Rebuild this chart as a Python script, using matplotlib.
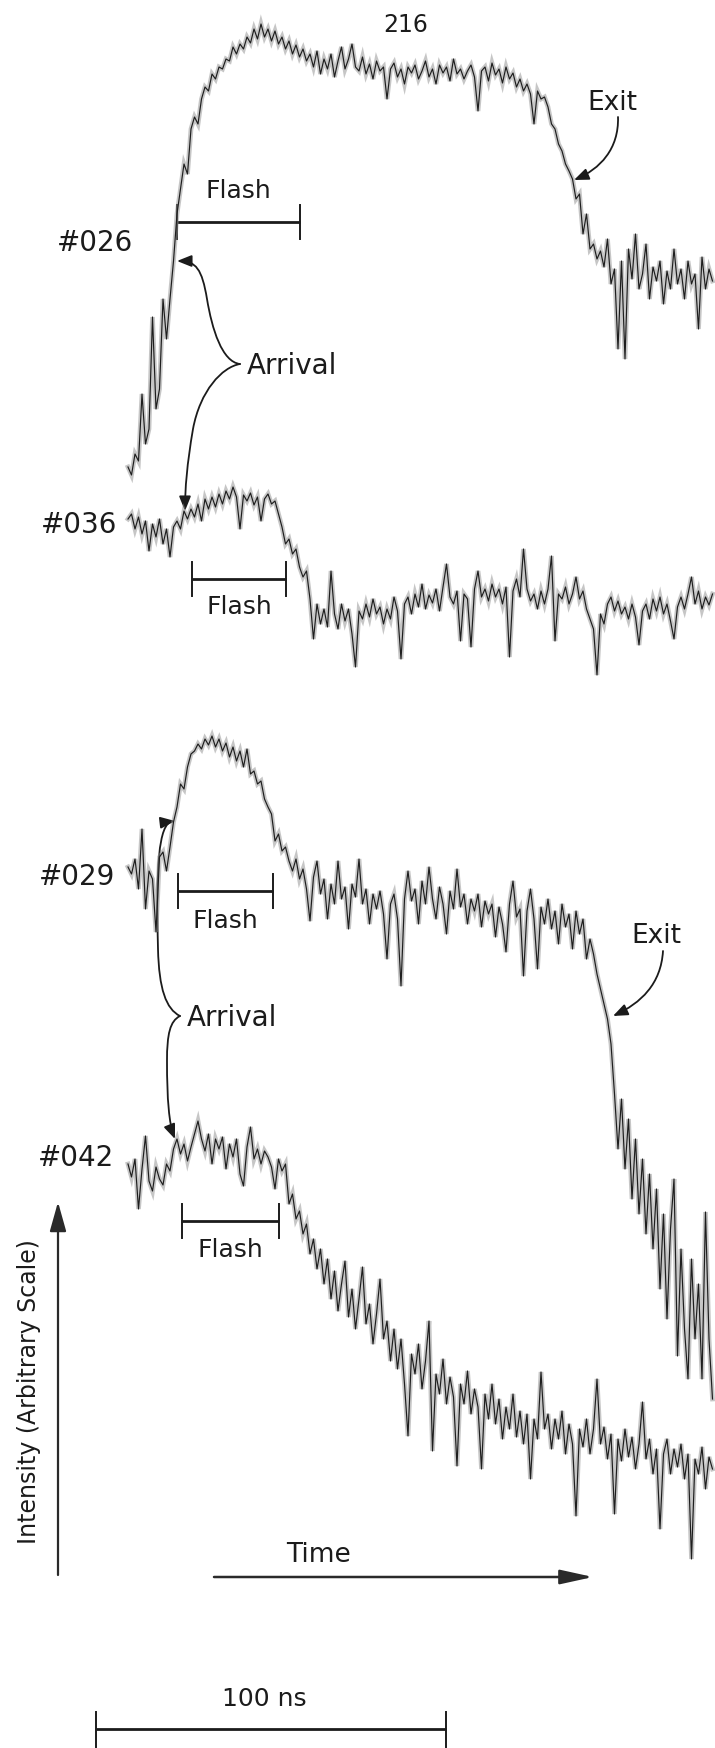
import numpy as np
import matplotlib
matplotlib.use("Agg")
import matplotlib.pyplot as plt
from matplotlib.path import Path
from matplotlib.patches import FancyArrowPatch
from matplotlib.transforms import blended_transform_factory

# ---------------------------------------------------------------------------
# Digitised oscilloscope traces, one sample per nanosecond, intensity in
# arbitrary units (larger = brighter).
# ---------------------------------------------------------------------------
SAMPLE_NS = 1.0

shot_ids = ["#026", "#036", "#029", "#042"]

intensity_026 = [
    12, 4, 25, 18, 85, 35, 50, 162, 70, 90,
    180, 140, 180, 218, 265, 290, 315, 305, 350, 362,
    355, 380, 392, 388, 405, 400, 412, 410, 420, 418,
    432, 425, 435, 430, 442, 436, 450, 440, 455, 442,
    450, 438, 448, 435, 442, 430, 438, 425, 434, 422,
    430, 418, 425, 412, 428, 405, 420, 410, 425, 402,
    418, 432, 410, 420, 435, 412, 408, 422, 405, 415,
    400, 418, 408, 412, 380, 410, 416, 402, 410, 395,
    412, 406, 414, 400, 408, 418, 402, 410, 395, 414,
    406, 412, 398, 420, 405, 410, 400, 408, 414, 402,
    368, 408, 412, 398, 416, 404, 410, 396, 412, 400,
    406, 392, 400, 388, 395, 385, 355, 388, 380, 382,
    372, 355, 350, 335, 328, 315, 308, 300, 280, 285,
    245, 265, 230, 235, 220, 228, 212, 240, 195, 210,
    130, 218, 120, 230, 200, 245, 190, 205, 235, 180,
    212, 198, 218, 175, 208, 190, 230, 195, 210, 180,
    218, 195, 205, 150, 222, 190, 210, 198,
]

intensity_036 = [
    160, 165, 150, 162, 145, 158, 128, 155, 142, 160,
    135, 150, 122, 152, 158, 150, 168, 160, 170, 162,
    175, 158, 180, 170, 182, 172, 185, 175, 188, 180,
    192, 182, 150, 184, 178, 186, 174, 182, 158, 180,
    185, 175, 178, 165, 152, 135, 140, 125, 130, 112,
    102, 108, 80, 40, 75, 55, 70, 52, 108, 65,
    50, 75, 58, 70, 45, 12, 68, 60, 75, 62,
    80, 65, 72, 55, 70, 60, 82, 68, 20, 75,
    82, 65, 85, 72, 95, 70, 84, 76, 90, 68,
    92, 115, 82, 75, 88, 38, 85, 80, 32, 90,
    108, 82, 90, 78, 95, 82, 90, 75, 92, 22,
    88, 100, 82, 130, 90, 78, 85, 70, 88, 75,
    90, 123, 38, 85, 80, 92, 75, 85, 102, 80,
    88, 70, 60, 50, 4, 65, 55, 75, 82, 68,
    78, 65, 72, 60, 75, 62, 34, 68, 75, 60,
    80, 68, 82, 65, 75, 58, 40, 72, 82, 70,
    85, 102, 75, 88, 70, 82, 74, 85,
]

intensity_029 = [
    532, 525, 540, 510, 570, 490, 528, 520, 467, 542,
    547, 528, 552, 577, 592, 615, 610, 632, 645, 648,
    655, 650, 660, 654, 663, 652, 660, 648, 656, 642,
    652, 638, 648, 632, 650, 625, 628, 615, 618, 600,
    592, 585, 558, 565, 548, 552, 538, 528, 540, 520,
    530, 510, 478, 522, 538, 505, 520, 480, 515, 495,
    538, 500, 512, 470, 515, 502, 540, 495, 510, 475,
    505, 490, 508, 485, 440, 495, 505, 480, 413, 500,
    528, 498, 510, 475, 518, 495, 532, 500, 480, 512,
    495, 465, 508, 490, 530, 492, 505, 475, 500, 488,
    505, 472, 498, 485, 495, 462, 492, 475, 447, 495,
    518, 482, 490, 423, 488, 510, 480, 430, 492, 475,
    500, 470, 488, 455, 495, 472, 485, 450, 488, 465,
    480, 440, 460, 445, 425, 410, 395, 380, 355, 305,
    250, 300, 230, 280, 200, 260, 185, 240, 165, 225,
    150, 210, 110, 185, 80, 170, 220, 43, 150, 70,
    20, 140, 60, 115, 20, 187, 60, 0,
]

intensity_042 = [
    415, 402, 420, 370, 410, 443, 398, 388, 412, 400,
    394, 415, 408, 430, 440, 425, 435, 418, 432, 445,
    458, 440, 428, 445, 415, 440, 430, 442, 410, 435,
    422, 440, 405, 393, 432, 452, 420, 430, 415, 428,
    422, 412, 390, 420, 408, 415, 375, 385, 360, 368,
    345, 355, 325, 340, 310, 330, 295, 320, 280, 308,
    268, 295, 318, 262, 290, 250, 280, 312, 255, 275,
    235, 265, 300, 240, 258, 218, 250, 210, 240, 195,
    143, 225, 205, 235, 190, 218, 258, 128, 205, 185,
    220, 175, 202, 182, 113, 195, 175, 208, 165, 190,
    172, 110, 185, 160, 195, 155, 180, 140, 172, 150,
    185, 142, 168, 135, 165, 100, 160, 140, 207, 150,
    165, 130, 160, 140, 168, 125, 155, 135, 63, 150,
    132, 160, 125, 150, 200, 135, 152, 120, 145, 65,
    140, 118, 150, 122, 142, 110, 135, 177, 120, 140,
    105, 130, 50, 125, 140, 105, 130, 112, 135, 100,
    125, 20, 120, 105, 132, 90, 122, 110,
]

# flash windows (ns from start of each record)
flash_026 = [14.0, 49.1]
flash_036 = [18.3, 45.1]
flash_029 = [14.3, 41.4]
flash_042 = [15.4, 43.1]

SCALE_BAR_NS = 100

# ---------------------------------------------------------------------------
# Page layout (pixels, origin top-left)
# ---------------------------------------------------------------------------
W, H = 715, 1749
PX_PER_NS = 3.5
TRACE_LEFT = 128

INK = "#1b1b1b"
FONT = "DejaVu Sans"

plt.rcParams["font.family"] = [FONT]

fig = plt.figure(figsize=(W / 100, H / 100), dpi=100)
fig.patch.set_facecolor("white")

page = fig.add_axes([0, 0, 1, 1])
page.set_xlim(0, W)
page.set_ylim(H, 0)
page.axis("off")


def trace_axes(base_px, span_px):
    width = W - TRACE_LEFT
    ax = fig.add_axes([TRACE_LEFT / W, 1 - base_px / H, width / W, span_px / H])
    ax.set_xlim(0, width / PX_PER_NS)
    ax.set_ylim(0, span_px)
    ax.axis("off")
    ax.patch.set_alpha(0)
    return ax


def draw_trace(ax, values):
    t = np.arange(len(values)) * SAMPLE_NS
    v = np.asarray(values, dtype=float)
    # grey photographic smear under the sharp beam line
    ax.plot(t, v, color="#8f8f8f", lw=3.4, alpha=0.5, clip_on=False,
            solid_joinstyle="miter")
    ax.plot(t, v, color="#1e1e1e", lw=0.85, clip_on=False)


traces = {
    "#026": (intensity_026, flash_026, 480, 470, 223),
    "#036": (intensity_036, flash_036, 680, 200, 580),
    "#029": (intensity_029, flash_029, 1400, 680, 892),
    "#042": (intensity_042, flash_042, 1580, 470, 1222),
}
label_pos = {"#026": (95, 243), "#036": (79, 525),
             "#029": (77, 877), "#042": (76, 1158)}
flash_text_y = {"#026": 191, "#036": 607, "#029": 921, "#042": 1250}

axes = {}
for sid in shot_ids:
    values, flash, base, span, bar_y = traces[sid]
    ax = trace_axes(base, span)
    axes[sid] = ax
    draw_trace(ax, values)

    # flash interval marker: time along the trace axis, height on the page
    tr = blended_transform_factory(ax.transData, page.transData)
    t0, t1 = flash
    page.plot([t0, t1], [bar_y, bar_y], transform=tr, color=INK, lw=2.0,
              solid_capstyle="butt")
    for tt in (t0, t1):
        page.plot([tt, tt], [bar_y - 17, bar_y + 17], transform=tr,
                  color=INK, lw=1.4)
    mid = page.transData.inverted().transform(
        tr.transform(((t0 + t1) / 2, bar_y)))[0]
    page.text(mid, flash_text_y[sid], "Flash", ha="center", va="center",
              fontsize=18, color=INK)

    lx, ly = label_pos[sid]
    page.text(lx, ly, sid, ha="center", va="center", fontsize=20, color=INK)


def curve(points, head=True):
    verts = [points[0]]
    codes = [Path.MOVETO]
    for seg in points[1:]:
        verts.extend(seg)
        codes.extend([Path.CURVE4] * 3)
    style = "-|>,head_length=0.55,head_width=0.22" if head else "-"
    arr = FancyArrowPatch(path=Path(verts, codes), arrowstyle=style,
                          mutation_scale=16, lw=1.3, color=INK,
                          transform=page.transData)
    page.add_patch(arr)


# "Arrival" brace for #026 / #036
curve([(240, 365), [(222, 363), (212, 330), (207, 300)],
       [(202, 270), (196, 262), (177, 262)]])
curve([(240, 365), [(222, 368), (200, 392), (193, 430)],
       [(187, 465), (185, 490), (185, 512)]])
page.text(292, 366, "Arrival", ha="center", va="center", fontsize=20, color=INK)

# "Arrival" brace for #029 / #042
curve([(180, 1017), [(166, 1010), (159, 990), (158, 950)],
       [(156, 870), (158, 824), (175, 822)]])
curve([(180, 1017), [(170, 1022), (167, 1035), (167, 1062)],
       [(167, 1100), (169, 1125), (175, 1140)]])
page.text(232, 1018, "Arrival", ha="center", va="center", fontsize=20, color=INK)

# "Exit" markers
curve([(618, 118), [(619, 150), (600, 170), (574, 181)]])
page.text(612, 103, "Exit", ha="center", va="center", fontsize=19, color=INK)
curve([(663, 952), [(661, 985), (641, 1004), (613, 1017)]])
page.text(656, 936, "Exit", ha="center", va="center", fontsize=19, color=INK)

# page number
page.text(406, 25, "216", ha="center", va="center", fontsize=17, color=INK)

# intensity axis arrow
page.annotate("", xy=(58, 1203), xytext=(58, 1576),
              arrowprops=dict(arrowstyle="-|>,head_length=1.0,head_width=0.28",
                              mutation_scale=18, lw=1.6, color="#2a2a2a",
                              shrinkA=0, shrinkB=0))
page.text(29, 1392, "Intensity (Arbitrary Scale)", rotation=90, ha="center",
          va="center", fontsize=17, color=INK)

# time arrow
page.annotate("", xy=(593, 1578), xytext=(214, 1578),
              arrowprops=dict(arrowstyle="-|>,head_length=1.0,head_width=0.22",
                              mutation_scale=20, lw=1.8, color="#2a2a2a",
                              shrinkA=0, shrinkB=0))
page.text(319, 1555, "Time", ha="center", va="center", fontsize=19, color=INK)

# 100 ns scale bar, drawn on the common time axis of the traces
ref = axes["#042"]
tr = blended_transform_factory(ref.transData, page.transData)
s0 = -9.1
s1 = s0 + SCALE_BAR_NS
page.plot([s0, s1], [1730, 1730], transform=tr, color=INK, lw=2.0,
          solid_capstyle="butt", clip_on=False)
for tt in (s0, s1):
    page.plot([tt, tt], [1713, 1748], transform=tr, color=INK, lw=1.4,
              clip_on=False)
mid = page.transData.inverted().transform(tr.transform(((s0 + s1) / 2, 1730)))[0]
page.text(mid - 7, 1699, f"{SCALE_BAR_NS} ns", ha="center", va="center",
          fontsize=18, color=INK)

fig.savefig("out.png", dpi=100, facecolor="white")
